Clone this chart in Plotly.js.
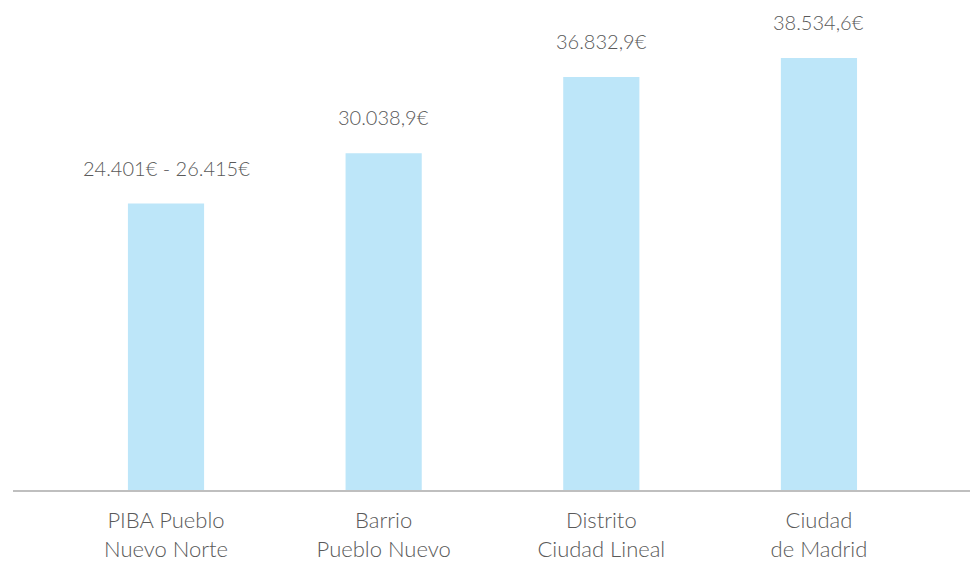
<!DOCTYPE html>
<html><head><meta charset="utf-8">
<script src="https://cdn.plot.ly/plotly-3.0.1.min.js"></script>
<style>html,body{margin:0;padding:0;background:#fff}#chart{width:972px;height:562px}</style>
</head><body><div id="chart"></div>
<script>
const categories = ["PIBA Pueblo<br>Nuevo Norte", "Barrio<br>Pueblo Nuevo", "Distrito<br>Ciudad Lineal", "Ciudad<br>de Madrid"];
const values = [25550, 30038.9, 36832.9, 38534.6];
const valueLabels = ["24.401€ - 26.415€", "30.038,9€", "36.832,9€", "38.534,6€"];

const font = {family: "Lato, 'Open Sans', sans-serif", color: "#595959", weight: 300};
const idx = categories.map((c, i) => i);

const trace = {
  type: "bar", x: idx, y: values, width: 0.35,
  marker: {color: "#bde6f9"}, hoverinfo: "none"
};
const annotations = idx.map(i => ({
  x: i, y: values[i], xref: "x", yref: "y", text: valueLabels[i],
  showarrow: false, yanchor: "bottom", yshift: 22,
  font: Object.assign({size: 20}, font)
}));
const layout = {
  width: 972, height: 562,
  margin: {l: 13, r: 2, t: 10, b: 72},
  paper_bgcolor: "#fff", plot_bgcolor: "#fff",
  showlegend: false,
  xaxis: {range: [-0.703, 3.694], tickvals: idx, ticktext: categories,
    showgrid: false, zeroline: false, showline: true, linecolor: "#bfbfbf", linewidth: 1.5,
    ticks: "", ticklabelstandoff: 10, tickfont: Object.assign({size: 22}, font), fixedrange: true},
  yaxis: {range: [0, 42820], visible: false, showgrid: false, zeroline: false, fixedrange: true},
  annotations: annotations
};
Plotly.newPlot("chart", [trace], layout, {displayModeBar: false, staticPlot: true});
</script></body></html>
